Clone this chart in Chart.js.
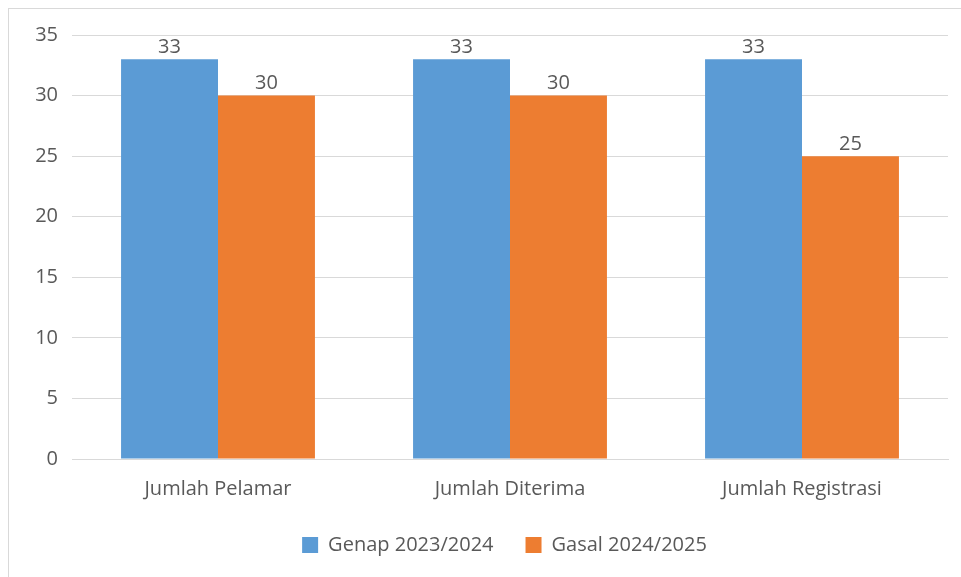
<!DOCTYPE html>
<html>
<head>
<meta charset="utf-8">
<script src="https://cdn.jsdelivr.net/npm/chart.js@4.4.1/dist/chart.umd.min.js"></script>
<style>
  html, body { margin: 0; padding: 0; background: #fff; }
  #box {
    position: absolute; left: 8px; top: 8px;
    width: 960px; height: 576px;
    border: 1px solid #d9d9d9; box-sizing: border-box;
  }
  #wrap { position: absolute; left: 0; top: 0; width: 952px; height: 568px; }
</style>
</head>
<body>
<div id="box"><div id="wrap"><canvas id="chart"></canvas></div></div>
<script>
// data
const categories = ["Jumlah Pelamar", "Jumlah Diterima", "Jumlah Registrasi"]
const genapValues = [33, 33, 33]
const gasalValues = [30, 30, 25]
const seriesLabels = ["Genap 2023/2024", "Gasal 2024/2025"]
const yTicks = [0, 5, 10, 15, 20, 25, 30, 35]

const textColor = "#595959"
const fontFamily = "'Open Sans', 'Noto Sans', sans-serif"

// value labels above each bar
const valueLabels = {
  id: "valueLabels",
  afterDatasetsDraw(chart) {
    const ctx = chart.ctx
    ctx.save()
    ctx.fillStyle = textColor
    ctx.font = "20px " + fontFamily
    ctx.textAlign = "center"
    ctx.textBaseline = "bottom"
    chart.data.datasets.forEach((ds, i) => {
      chart.getDatasetMeta(i).data.forEach((bar, j) => {
        ctx.fillText(ds.data[j], bar.x, bar.y - 2)
      })
    })
    ctx.restore()
  },
}

// the original legend sits a little right of centre
const legendShift = {
  id: "legendShift",
  afterLayout(chart) {
    if (chart.legend) {
      chart.legend.left += 26
      chart.legend.right += 26
    }
  },
}

new Chart(document.getElementById("chart"), {
  type: "bar",
  data: {
    labels: categories,
    datasets: [
      {
        label: seriesLabels[0],
        data: genapValues,
        backgroundColor: "#5B9BD5",
        categoryPercentage: 0.664,
        barPercentage: 1,
      },
      {
        label: seriesLabels[1],
        data: gasalValues,
        backgroundColor: "#ED7D31",
        categoryPercentage: 0.664,
        barPercentage: 1,
      },
    ],
  },
  options: {
    responsive: true,
    maintainAspectRatio: false,
    animation: false,
    layout: { padding: { top: 25, right: 13, left: 0, bottom: 12 } },
    plugins: {
      legend: {
        position: "bottom",
        labels: {
          color: textColor,
          font: { family: fontFamily, size: 20 },
          boxWidth: 16,
          boxHeight: 16,
          padding: 32,
        },
      },
      tooltip: { enabled: false },
    },
    scales: {
      x: {
        grid: { display: false, drawTicks: false },
        border: { color: "#d9d9d9", width: 1 },
        ticks: { color: textColor, font: { family: fontFamily, size: 20 }, padding: 18 },
        afterFit: (scale) => { scale.height = 44 },
      },
      y: {
        min: 0,
        max: 35,
        afterBuildTicks: (scale) => { scale.ticks = yTicks.map((v) => ({ value: v })) },
        grid: { color: "#d9d9d9", drawTicks: false },
        border: { display: false },
        ticks: { color: textColor, font: { family: fontFamily, size: 20 }, padding: 14 },
        afterFit: (scale) => { scale.width = 63 },
      },
    },
  },
  plugins: [valueLabels, legendShift],
})
</script>
</body>
</html>
